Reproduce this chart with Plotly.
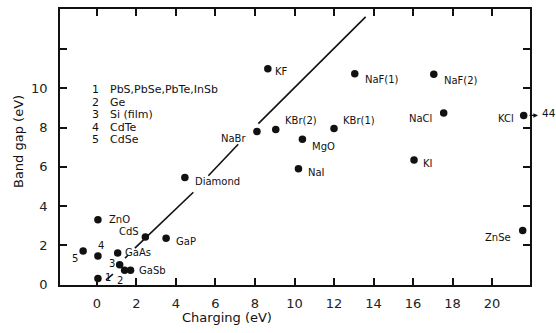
import plotly.graph_objects as go

# ---- data ----
names = ["PbS", "ZnO", "CdTe", "CdSe", "GaAs", "Si", "Ge", "GaSb", "CdS", "GaP",
         "Diamond", "NaBr", "KBr(2)", "KF", "MgO", "NaI", "KBr(1)", "NaF(1)",
         "NaF(2)", "NaCl", "KI", "KCl", "ZnSe"]
charging = [0.05, 0.05, 0.05, -0.7, 1.05, 1.15, 1.4, 1.7, 2.45, 3.5,
            4.45, 8.1, 9.05, 8.65, 10.4, 10.2, 12.0, 13.05,
            17.05, 17.55, 16.05, 21.6, 21.55]
band_gap = [0.3, 3.3, 1.45, 1.7, 1.6, 1.0, 0.72, 0.72, 2.42, 2.35,
            5.45, 7.8, 7.9, 11.0, 7.4, 5.9, 7.95, 10.75,
            10.72, 8.75, 6.35, 8.62, 2.75]
labels = ["1", "ZnO", "4", "5", "GaAs", "3", "2", "GaSb", "CdS", "GaP",
          "Diamond", "NaBr", "KBr(2)", "KF", "MgO", "NaI", "KBr(1)", "NaF(1)",
          "NaF(2)", "NaCl", "KI", "KCl", "ZnSe"]

# trend line (drawn broken where labels sit)
line_x = [0.46, 0.81, None, 1.42, 1.57, None, 1.92, 4.88, None, 5.64, 7.15, None, 8.17, 13.6]
line_y = [0.23, 0.53, None, 1.34, 1.49, None, 1.85, 4.70, None, 5.54, 7.15, None, 8.20, 13.65]

key_nums = ["1", "2", "3", "4", "5"]
key_text = ["PbS,PbSe,PbTe,InSb", "Ge", "Si (film)", "CdTe", "CdSe"]

x_ticks = [0, 2, 4, 6, 8, 10, 12, 14, 16, 18, 20]
y_ticks = [0, 2, 4, 6, 8, 10, 12, 14]
y_ticktext = ["0", "2", "4", "6", "8", "10", "", ""]

kcl_offscale = "44"

# ---- label placement (pixel offsets from the dot) ----
lab_pos = {
    "1": ("center", 10, 1), "2": ("center", -5, -10), "3": ("center", -8, 1),
    "4": ("center", 3, 10), "5": ("center", -8, -7),
    "GaAs": ("left", 5, 1), "GaSb": ("left", 6, 0), "CdS": ("right", -4, 5),
    "ZnO": ("left", 9, 0), "GaP": ("left", 8, -3), "Diamond": ("left", 8, -4),
    "NaBr": ("right", -9, -7), "KF": ("left", 5, -3), "KBr(2)": ("left", 7, 9),
    "KBr(1)": ("left", 7, 8), "MgO": ("left", 8, -7), "NaI": ("left", 8, -4),
    "NaF(1)": ("left", 8, -6), "NaF(2)": ("left", 8, -6), "NaCl": ("right", -10, -6),
    "KI": ("left", 7, -4), "KCl": ("right", -8, -3), "ZnSe": ("right", -10, -7),
}

FONT = "DejaVu Sans"
INK = "#111111"

fig = go.Figure()
fig.add_trace(go.Scatter(x=line_x, y=line_y, mode="lines",
                         line=dict(color=INK, width=1.6), hoverinfo="skip",
                         showlegend=False))
fig.add_trace(go.Scatter(x=charging, y=band_gap, mode="markers",
                         marker=dict(color=INK, size=7.5), text=names,
                         showlegend=False, cliponaxis=False))

annotations = []
for x, y, lab in zip(charging, band_gap, labels):
    anchor, dx, dy = lab_pos[lab]
    annotations.append(dict(x=x, y=y, xref="x", yref="y", text=lab, showarrow=False,
                            xanchor=anchor, yanchor="middle", xshift=dx, yshift=dy,
                            font=dict(family=FONT, size=10, color=INK)))

# key block
for i, (n, t) in enumerate(zip(key_nums, key_text)):
    ypix = 88.5 + i * 12.5
    yp = 1 - (ypix - 7) / 278.0
    annotations.append(dict(x=(95 - 60) / 470.0, y=yp, xref="paper", yref="paper",
                            text=n, showarrow=False, xanchor="center", yanchor="middle",
                            font=dict(family=FONT, size=11, color=INK)))
    annotations.append(dict(x=(108 - 60) / 470.0, y=yp, xref="paper", yref="paper",
                            text=t, showarrow=False, xanchor="left", yanchor="middle",
                            font=dict(family=FONT, size=11, color=INK)))

# off-scale arrow for KCl
kcl_y = band_gap[names.index("KCl")]
annotations.append(dict(x=(538 - 60) / 470.0, y=kcl_y, xref="paper", yref="y", text="",
                        showarrow=True, ax=-10, ay=0, arrowhead=2, arrowsize=0.7,
                        arrowwidth=1.3, arrowcolor=INK))
annotations.append(dict(x=(539.5 - 60) / 470.0, y=kcl_y, xref="paper", yref="y",
                        text=kcl_offscale, showarrow=False, xanchor="left",
                        yanchor="middle", yshift=2,
                        font=dict(family=FONT, size=10.5, color=INK)))

# axis titles
annotations.append(dict(x=(227 - 60) / 470.0, y=-(318 - 285) / 278.0, xref="paper",
                        yref="paper", text="Charging (eV)", showarrow=False,
                        xanchor="center", yanchor="middle",
                        font=dict(family=FONT, size=13, color=INK)))
annotations.append(dict(x=-(60 - 18) / 470.0, y=1 - (141 - 7) / 278.0, xref="paper",
                        yref="paper", text="Band gap (eV)", showarrow=False,
                        textangle=-90, xanchor="center", yanchor="middle",
                        font=dict(family=FONT, size=13, color=INK)))

axis_common = dict(showline=True, linecolor=INK, linewidth=1.6, mirror="ticks",
                   ticks="inside", ticklen=7, tickwidth=1.5, tickcolor=INK,
                   showgrid=False, zeroline=False,
                   tickfont=dict(family=FONT, size=13, color="#222222"))

fig.update_layout(
    width=556, height=333,
    margin=dict(l=60, r=26, t=7, b=48),
    paper_bgcolor="white", plot_bgcolor="white",
    xaxis=dict(range=[-1.87, 21.92], tickvals=x_ticks, ticklabelstandoff=6,
               **axis_common),
    yaxis=dict(range=[-0.03, 14.05], tickvals=y_ticks, ticktext=y_ticktext,
               ticklabelstandoff=8, **axis_common),
    annotations=annotations,
    showlegend=False,
)

fig.write_html("out.html")
